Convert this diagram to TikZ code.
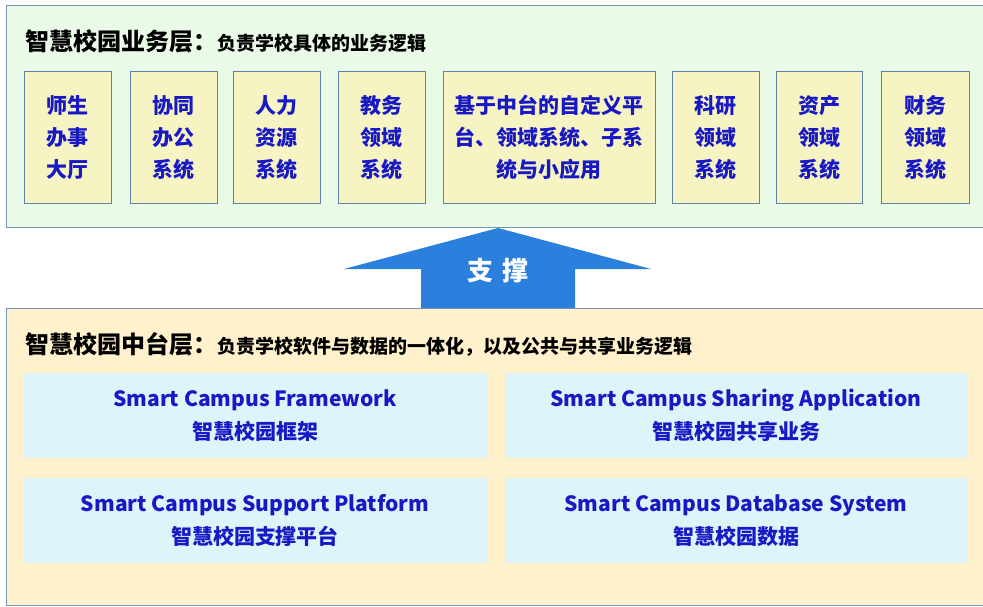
\documentclass[tikz,border=0pt]{standalone}
\usepackage{fontspec}
\setmainfont{Noto Sans CJK SC}
\def\W{983}
\def\H{607}
\def\U{pt}
\definecolor{toplayerbg}{RGB}{233,250,230}
\definecolor{midlayerbg}{RGB}{255,241,204}
\definecolor{layerframe}{RGB}{120,150,185}
\definecolor{sysboxbg}{RGB}{246,244,194}
\definecolor{sysboxframe}{RGB}{95,130,170}
\definecolor{appboxbg}{RGB}{221,245,248}
\definecolor{txtblue}{RGB}{24,24,196}
\definecolor{arrowblue}{RGB}{42,128,220}

\begin{document}
\begin{tikzpicture}[x=1\U,y=-1\U,
    layer/.style={draw=layerframe,line width=1.2\U,anchor=north west,inner sep=0},
    sysbox/.style={draw=sysboxframe,fill=sysboxbg,line width=1\U,minimum height=131\U,
        inner sep=0,align=center,text=txtblue,font=\fontsize{21}{32}\selectfont\bfseries},
    appbox/.style={fill=appboxbg,minimum width=463\U,minimum height=85\U,
        inner sep=0,align=center,text=txtblue,font=\fontsize{21}{33}\selectfont\bfseries},
    title/.style={anchor=base west,inner sep=0,font=\fontsize{24}{30}\selectfont\bfseries}]
% pixel grid of the page, origin top-left and y pointing down
\clip (0,0) rectangle (\W,\H);
\fill[white] (0,0) rectangle (\W,\H);
% both layers run on past the right edge
\node[layer,fill=toplayerbg,minimum width=982\U,minimum height=222\U] (toplayer) at (6,5) {};
\node[title] (toptitle) at (25,51)
    {智慧校园业务层：{\fontsize{19}{22}\selectfont 负责学校具体的业务逻辑}};
\foreach \name/\cx/\w/\txt in {
        hall/67.5/87/{师生\\办事\\大厅},
        office/173.5/87/{协同\\办公\\系统},
        hr/276.5/87/{人力\\资源\\系统},
        teaching/381.5/87/{教务\\领域\\系统},
        custom/549/212/{基于中台的自定义平\\台、领域系统、子系\\统与小应用},
        research/715.5/87/{科研\\领域\\系统},
        assets/819/86/{资产\\领域\\系统},
        finance/925/88/{财务\\领域\\系统}}{
    \node[sysbox,minimum width=\w\U] (\name) at (\cx,137.5) {\txt};
}
% block arrow from the middle layer up to the business layer
\fill[arrowblue] (421,309) -- (421,269) -- (344,269) -- (498,228)
    -- (651,269) -- (575,269) -- (575,309) -- cycle;
\node[text=white,font=\fontsize{26}{30}\selectfont\bfseries] (support) at (498,271) {支\hspace{9pt}撑};
\node[layer,fill=midlayerbg,minimum width=982\U,minimum height=297\U] (midlayer) at (6,308) {};
\node[title] (midtitle) at (25,353)
    {智慧校园中台层：{\fontsize{19}{22}\selectfont 负责学校软件与数据的一体化，以及公共与共享业务逻辑}};
\node[appbox] (framework) at (255,415.5) {Smart Campus Framework\\智慧校园框架};
\node[appbox] (sharing) at (736,415.5) {Smart Campus Sharing Application\\智慧校园共享业务};
\node[appbox] (platform) at (255,520.5) {Smart Campus Support Platform\\智慧校园支撑平台};
\node[appbox] (database) at (736,520.5) {Smart Campus Database System\\智慧校园数据};
\end{tikzpicture}
\end{document}
